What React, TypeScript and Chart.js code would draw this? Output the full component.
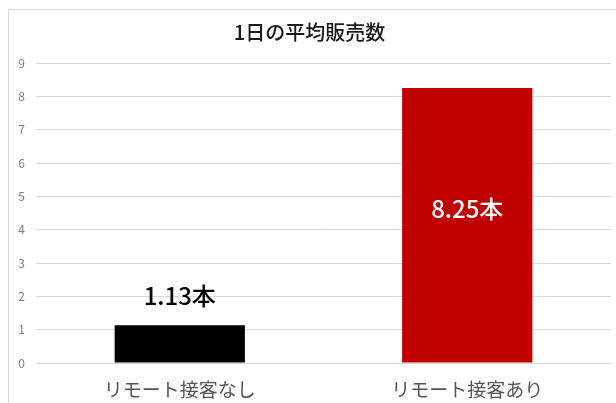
import React, { useEffect, useRef } from "react";
import { Chart, registerables } from "chart.js";

Chart.register(...registerables);

const categories = ["リモート接客なし", "リモート接客あり"];
const values = [1.13, 8.25];
const valueLabels = ["1.13本", "8.25本"];
const barColors = ["#000000", "#C00000"];
const labelColors = ["#000000", "#FFFFFF"];
const titleText = "1日の平均販売数";

const FONT = "'Noto Sans CJK JP', 'Noto Sans', sans-serif";

const labelPlugin = {
  id: "valueLabels",
  afterDatasetsDraw(chart: any) {
    const ctx = chart.ctx;
    const meta = chart.getDatasetMeta(0);
    ctx.save();
    ctx.font = `500 24px ${FONT}`;
    ctx.textAlign = "center";
    ctx.textBaseline = "middle";
    meta.data.forEach((bar: any, i: number) => {
      ctx.fillStyle = labelColors[i];
      let y: number;
      if (i === 0) {
        y = bar.y - 29;
      } else {
        y = (bar.y + bar.base) / 2 - 16;
      }
      ctx.fillText(valueLabels[i], bar.x, y);
    });
    ctx.restore();
  },
};

const borderPlugin = {
  id: "boxBorder",
  beforeDraw(chart: any) {
    const ctx = chart.ctx;
    ctx.save();
    ctx.strokeStyle = "#d9d9d9";
    ctx.lineWidth = 1;
    ctx.beginPath();
    ctx.moveTo(8.5, chart.height + 5);
    ctx.lineTo(8.5, 9.5);
    ctx.lineTo(chart.width + 5, 9.5);
    ctx.stroke();
    ctx.restore();
  },
};

export default function App() {
  const ref = useRef<HTMLCanvasElement | null>(null);
  useEffect(() => {
    if (!ref.current) return;
    const chart = new Chart(ref.current, {
      type: "bar",
      data: {
        labels: categories,
        datasets: [
          {
            data: values,
            backgroundColor: barColors,
            categoryPercentage: 1,
            barPercentage: 0.453,
          },
        ],
      },
      options: {
        animation: false,
        responsive: false,
        maintainAspectRatio: false,
        layout: { padding: { left: 8, top: 9, right: 5, bottom: 0 } },
        plugins: {
          legend: { display: false },
          tooltip: { enabled: false },
          title: {
            display: true,
            text: titleText,
            color: "#1a1a1a",
            font: { family: FONT, size: 20, weight: "500" },
            padding: { top: 11, bottom: 19 },
          },
        },
        scales: {
          x: {
            grid: { display: false },
            border: { display: false },
            ticks: {
              color: "#555555",
              font: { family: FONT, size: 19 },
              padding: 7,
            },
            afterFit(scale: any) {
              scale.height = 40;
            },
          },
          y: {
            min: 0,
            max: 9,
            grid: { color: "#d9d9d9", drawTicks: false },
            border: { display: false },
            ticks: {
              stepSize: 1,
              color: "#7f7f7f",
              font: { family: FONT, size: 12 },
              padding: 11,
            },
            afterFit(scale: any) {
              scale.width = 28;
            },
          },
        },
      },
      plugins: [labelPlugin, borderPlugin],
    });
    return () => chart.destroy();
  }, []);
  return (
    <div style={{ position: "fixed", left: 0, top: 0, width: 616, height: 403, background: "#fff" }}>
      <canvas ref={ref} width={616} height={403} style={{ display: "block" }} />
    </div>
  );
}
